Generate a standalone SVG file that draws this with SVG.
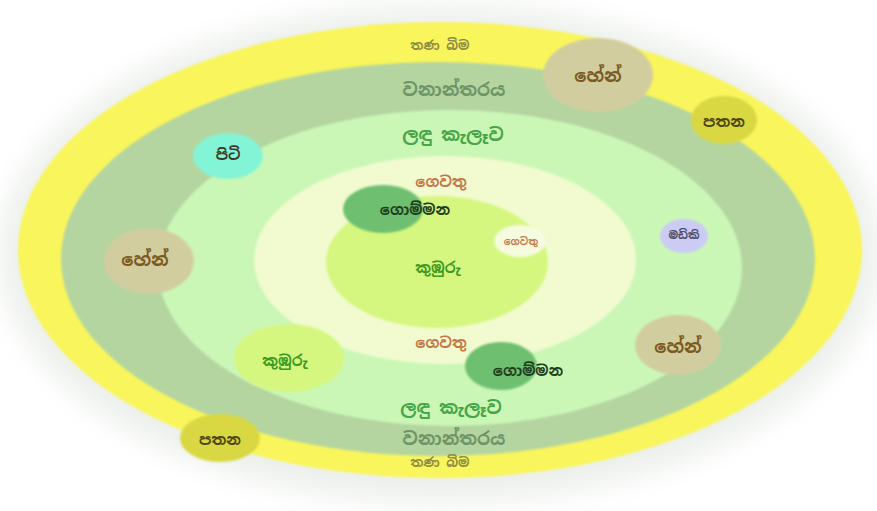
<svg xmlns="http://www.w3.org/2000/svg" width="877" height="511" viewBox="0 0 877 511">
<defs>
<filter id="soft" x="-20%" y="-20%" width="140%" height="140%"><feGaussianBlur stdDeviation="1.2"/></filter>
<filter id="halo" x="-20%" y="-20%" width="140%" height="140%"><feGaussianBlur stdDeviation="14"/></filter>
<style>
text{font-family:"Noto Sans Sinhala","Noto Sans","DejaVu Sans",sans-serif;text-anchor:middle;dominant-baseline:central;font-weight:bold}
.grass{fill:#8d8b45;font-size:13px}
.forest{fill:#6e9466;font-size:18px}
.scrub{fill:#46a648;font-size:18px}
.home{fill:#c4784a;font-size:15px}
.gom{fill:#1f3d1f;font-size:15px}
.paddy{fill:#3d9a22;font-size:15px}
.chena{fill:#7a5a22;font-size:18px}
.patana{fill:#4d4510;font-size:15px}
</style>
</defs>
<rect width="877" height="511" fill="#ffffff"/>
<ellipse cx="440" cy="254" rx="440" ry="248" fill="#ecf0eb" filter="url(#halo)"/>
<g id="ring-grassland" filter="url(#soft)">
<ellipse cx="440" cy="250" rx="422" ry="228" fill="#f9f55b"/>
</g>
<g id="ring-forest" filter="url(#soft)">
<ellipse cx="438" cy="259" rx="377" ry="197" fill="#b4d5a0"/>
</g>
<g id="ring-scrub" filter="url(#soft)">
<ellipse cx="450" cy="268" rx="292" ry="158" fill="#cbf7b6"/>
</g>
<g id="ring-home" filter="url(#soft)">
<ellipse cx="445" cy="260" rx="191" ry="104" fill="#f1fbcf"/>
</g>
<g id="core-paddy" filter="url(#soft)">
<ellipse cx="437" cy="262" rx="111" ry="66" fill="#d5f77f"/>
</g>
<g id="labels">
<text class="grass" x="440" y="45">තණ බිම</text>
<text class="grass" x="440" y="462">තණ බිම</text>
<text class="forest" x="454" y="89">වනාන්තරය</text>
<text class="forest" x="454" y="438">වනාන්තරය</text>
<text class="scrub" x="453" y="134">ලඳු කැලෑව</text>
<text class="scrub" x="451" y="407">ලඳු කැලෑව</text>
<text class="home" x="441" y="181">ගෙවතු</text>
<text class="home" x="441" y="342">ගෙවතු</text>
<text class="paddy" x="438" y="267">කුඹුරු</text>
</g>
<g id="node-gomman-top">
<ellipse cx="383" cy="209" rx="40" ry="24" fill="#6ec06f" filter="url(#soft)"/>
<text class="gom" x="415" y="209">ගොම්මන</text>
</g>
<g id="node-gewathu-small">
<ellipse cx="520" cy="241" rx="26" ry="16" fill="#f6fbe0" filter="url(#soft)"/>
<text class="home" x="521" y="241" style="font-size:10px">ගෙවතු</text>
</g>
<g id="node-gomman-bottom">
<ellipse cx="501" cy="366" rx="36" ry="24" fill="#6ec06f" filter="url(#soft)"/>
<text class="gom" x="528" y="370">ගොම්මන</text>
</g>
<g id="node-paddy-left">
<ellipse cx="289" cy="358" rx="55" ry="34" fill="#d5f77f" filter="url(#soft)"/>
<text class="paddy" x="285" y="360">කුඹුරු</text>
</g>
<g id="node-chena-left">
<ellipse cx="149" cy="261" rx="45" ry="33" fill="#d2cd9f" filter="url(#soft)"/>
<text class="chena" x="145" y="259">හේන්</text>
</g>
<g id="node-piti">
<ellipse cx="228" cy="156" rx="35" ry="23" fill="#84f4d6" filter="url(#soft)"/>
<text class="patana" x="228" y="154" style="fill:#3a3a2a">පිටි</text>
</g>
<g id="node-chena-top">
<ellipse cx="598" cy="75" rx="55" ry="37" fill="#d2cd9f" filter="url(#soft)"/>
<text class="chena" x="598" y="75">හේන්</text>
</g>
<g id="node-patana-right">
<ellipse cx="724" cy="120" rx="33" ry="24" fill="#d9d843" filter="url(#soft)"/>
<text class="patana" x="724" y="121">පතන</text>
</g>
<g id="node-madiki">
<ellipse cx="684" cy="236" rx="24" ry="17" fill="#cbcbf4" filter="url(#soft)"/>
<text class="patana" x="684" y="235" style="fill:#4a4a68;font-size:11px">මඩිකි</text>
</g>
<g id="node-chena-right">
<ellipse cx="678" cy="345" rx="43" ry="30" fill="#d2cd9f" filter="url(#soft)"/>
<text class="chena" x="678" y="346">හේන්</text>
</g>
<g id="node-patana-left">
<ellipse cx="220" cy="438" rx="40" ry="24" fill="#d9d843" filter="url(#soft)"/>
<text class="patana" x="220" y="439">පතන</text>
</g>
<g id="connectors"></g>
</svg>
